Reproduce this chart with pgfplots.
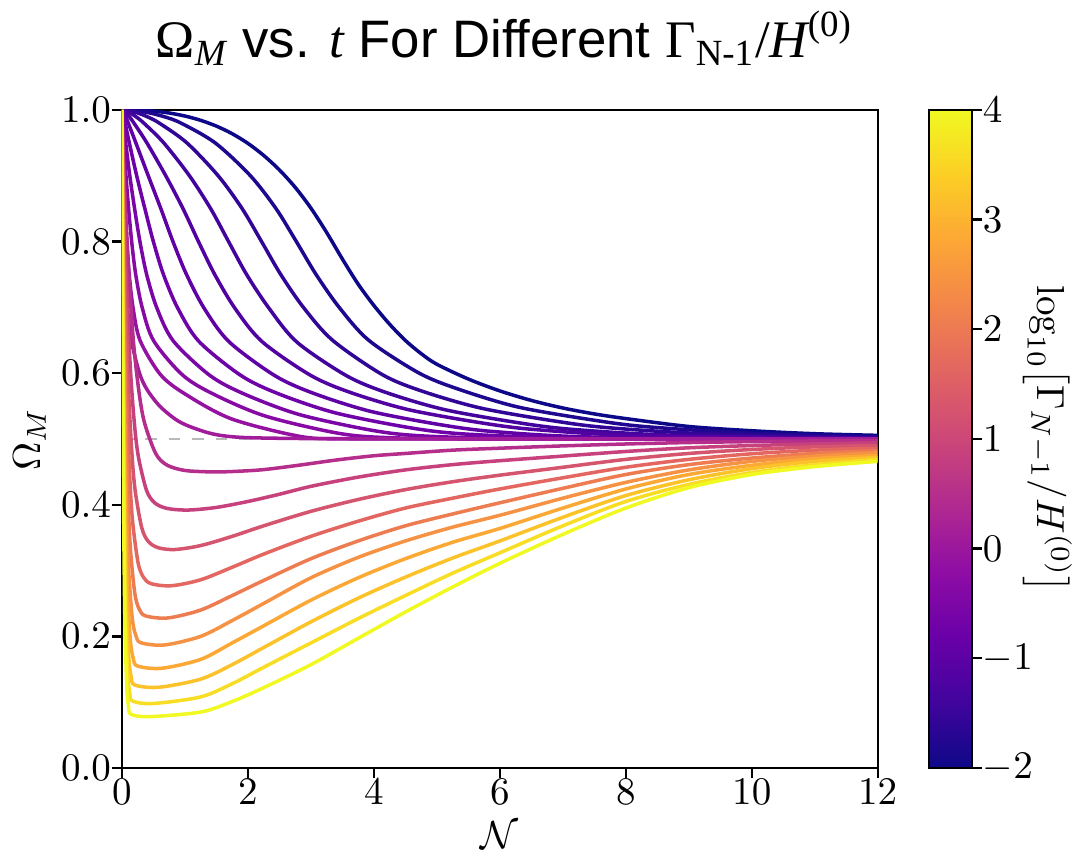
\documentclass[border=0pt]{standalone}
\usepackage[no-math]{fontspec}
\setmainfont{Liberation Sans}
\newfontfamily\tnr{Liberation Serif}
\usepackage{pgfplots}
\pgfplotsset{compat=1.18}

% plasma colours, one per curve (top curve = smallest decay rate)
\definecolor{c0}{RGB}{13,8,135}
\definecolor{c1}{RGB}{31,7,143}
\definecolor{c2}{RGB}{49,5,150}
\definecolor{c3}{RGB}{67,4,158}
\definecolor{c4}{RGB}{81,2,161}
\definecolor{c5}{RGB}{96,1,165}
\definecolor{c6}{RGB}{110,1,168}
\definecolor{c7}{RGB}{123,6,166}
\definecolor{c8}{RGB}{136,10,165}
\definecolor{c9}{RGB}{148,17,161}
\definecolor{c10}{RGB}{160,28,154}
\definecolor{c11}{RGB}{181,46,139}
\definecolor{c12}{RGB}{199,65,125}
\definecolor{c13}{RGB}{213,84,110}
\definecolor{c14}{RGB}{227,103,96}
\definecolor{c15}{RGB}{238,124,81}
\definecolor{c16}{RGB}{246,146,67}
\definecolor{c17}{RGB}{252,168,53}
\definecolor{c18}{RGB}{252,194,42}
\definecolor{c19}{RGB}{248,221,36}
\definecolor{c20}{RGB}{240,249,33}

\pgfplotsset{
  colormap={plasma}{rgb255=(13,8,135) rgb255=(65,4,157) rgb255=(106,0,168)
    rgb255=(143,13,164) rgb255=(177,42,144) rgb255=(204,71,120) rgb255=(225,100,98)
    rgb255=(242,132,75) rgb255=(252,166,54) rgb255=(252,206,37) rgb255=(240,249,33)},
}

\begin{document}
\begin{tikzpicture}
\useasboundingbox (-31.2pt,-21.5pt) rectangle (244pt,196.6pt);
\begin{axis}[
  at={(0pt,0pt)}, anchor=south west,
  scale only axis, width=193.5pt, height=168.45pt,
  xmin=0, xmax=12, ymin=0, ymax=1,
  xtick={0,2,4,6,8,10,12},
  ytick={0,0.2,0.4,0.6,0.8,1},
  yticklabel style={inner sep=0pt, /pgf/number format/.cd,fixed,fixed zerofill,precision=1},
  xticklabel style={inner sep=0pt},
  tick align=outside, tick pos=left, major tick length=2.6pt,
  axis line style={line width=0.6pt},
  every tick/.style={black, line width=0.6pt},
  colormap name=plasma,
  colorbar, point meta min=-2, point meta max=4,
  colorbar style={
    at={(parent axis.north east)}, anchor=north west, xshift=4.6pt,
    scale only axis, width=11pt, height=168.45pt,
    ytick={-2,-1,0,1,2,3,4},
    ytick pos=right, yticklabel pos=right,
    yticklabel style={inner sep=0pt},
    tick align=outside, major tick length=2.6pt,
    axis line style={line width=0.6pt},
    every tick/.style={black, line width=0.6pt},
    ylabel={$\log_{10}\bigl[\Gamma_{N-1}/H^{(0)}\bigr]$},
    every axis y label/.style={at={(axis description cs:2.76,0.5)}, anchor=center, rotate=-90, inner sep=0pt},
  },
  every axis plot/.append style={line width=0.9pt, smooth},
]
% reference level Omega_M = 1/2
\addplot[gray!55, dashed, line width=0.4pt, sharp plot] coordinates {(0,0.5) (12,0.5)};

\addplot[c0] coordinates {(0,1) (0.25,0.9996) (0.5,0.9983) (0.75,0.9954) (1,0.9908) (1.25,0.9843) (1.5,0.9755) (1.75,0.964) (2,0.9493) (2.25,0.931) (2.5,0.909) (2.75,0.8826) (3,0.851) (3.25,0.814) (3.5,0.7736) (3.75,0.7355) (4,0.703) (4.25,0.6745) (4.5,0.6498) (4.75,0.6298) (5,0.6136) (5.5,0.5911) (6,0.5731) (6.5,0.5586) (7,0.5471) (7.5,0.5381) (8,0.531) (9,0.519) (10,0.5125) (11,0.508) (12,0.5055)};
\addplot[c1] coordinates {(0,1) (0.359,0.997) (0.664,0.99) (0.94,0.98) (1.481,0.95) (2.041,0.9) (2.448,0.85) (2.77,0.8) (3.083,0.75) (3.45,0.7) (3.919,0.65) (4.721,0.6) (5.365,0.575) (6.292,0.5485) (7.5,0.5285) (8.333,0.5186) (9.972,0.5088) (12,0.5032)};
\addplot[c2] coordinates {(0,1) (0.199,0.997) (0.396,0.99) (0.595,0.98) (1.032,0.95) (1.529,0.9) (1.91,0.85) (2.218,0.8) (2.522,0.75) (2.882,0.7) (3.345,0.65) (4.142,0.5974) (4.784,0.5721) (5.71,0.5467) (6.917,0.5266) (7.751,0.5169) (9.39,0.5074) (12,0.5019)};
\addplot[c3] coordinates {(0,1) (0.105,0.997) (0.221,0.99) (0.349,0.98) (0.665,0.95) (1.073,0.9) (1.41,0.85) (1.694,0.8) (1.98,0.75) (2.326,0.7) (2.778,0.6473) (3.565,0.5962) (4.205,0.5703) (5.128,0.5445) (6.335,0.5241) (7.168,0.5145) (8.808,0.5055) (12,0.5007)};
\addplot[c4] coordinates {(0,1) (0.054,0.997) (0.118,0.99) (0.192,0.98) (0.397,0.95) (0.697,0.9) (0.971,0.85) (1.216,0.8) (1.474,0.75) (1.795,0.6986) (2.225,0.648) (2.995,0.5968) (3.628,0.5707) (4.547,0.5446) (5.753,0.5238) (6.586,0.5141) (8.225,0.5051) (12,0.5003)};
\addplot[c5] coordinates {(0,1) (0.028,0.997) (0.061,0.99) (0.102,0.98) (0.222,0.95) (0.419,0.9) (0.619,0.85) (0.811,0.8) (1.026,0.75) (1.306,0.6987) (1.701,0.6478) (2.436,0.5958) (3.057,0.5689) (3.969,0.5415) (5.172,0.5199) (6.004,0.5105) (7.643,0.5026) (12,0.5)};
\addplot[c6] coordinates {(0,1) (0.0139,0.997) (0.031,0.99) (0.0524,0.98) (0.118,0.95) (0.2353,0.9) (0.365,0.85) (0.5,0.8) (0.66,0.75) (0.885,0.6992) (1.222,0.6484) (1.898,0.596) (2.496,0.5683) (3.393,0.5396) (4.591,0.5168) (5.422,0.5077) (7.06,0.5012) (9,0.5) (12,0.5)};
\addplot[c7] coordinates {(0,1) (0.0156,0.99) (0.0266,0.98) (0.0611,0.95) (0.1258,0.9) (0.2021,0.85) (0.2867,0.8) (0.3935,0.75) (0.5538,0.6995) (0.8162,0.649) (1.3994,0.5964) (1.9554,0.5678) (2.8259,0.5369) (4.0118,0.5125) (4.841,0.5043) (6.478,0.5003) (9,0.5) (12,0.5)};
\addplot[c8] coordinates {(0,1) (0.0134,0.98) (0.0311,0.95) (0.0653,0.9) (0.1071,0.85) (0.1555,0.8) (0.2196,0.75) (0.3218,0.7) (0.5035,0.6494) (0.9627,0.5973) (1.451,0.5683) (2.2718,0.535) (3.4364,0.5087) (4.2611,0.5019) (5.895,0.5002) (8,0.5) (12,0.5)};
\addplot[c9] coordinates {(0,1) (0.0067,0.98) (0.0157,0.95) (0.0333,0.9) (0.0553,0.85) (0.0813,0.8) (0.1169,0.75) (0.1762,0.7) (0.2888,0.6497) (0.6122,0.5979) (1.0063,0.5682) (1.744,0.5304) (2.868,0.5033) (3.684,0.5003) (6,0.5) (12,0.5)};
\addplot[c10] coordinates {(0,1) (0.0075,0.95) (0.016,0.9) (0.037,0.8) (0.056,0.75) (0.088,0.7) (0.15,0.65) (0.28,0.6) (0.4,0.575) (0.6,0.55) (0.85,0.53) (1.05,0.52) (1.35,0.51) (1.6,0.505) (2.0,0.502) (3,0.5006) (5,0.5) (12,0.5)};
\addplot[c11] coordinates {(0,1) (0.045,0.8783) (0.09,0.7836) (0.18,0.6523) (0.27,0.5727) (0.36,0.5244) (0.54,0.4774) (0.72,0.4601) (0.99,0.4523) (1.3,0.4503) (1.6,0.45) (2.2,0.453) (2.8,0.46) (3.4,0.468) (4,0.4745) (4.5,0.478) (5.25,0.483) (6,0.486) (7,0.4895) (8,0.4924) (9,0.4946) (10,0.496) (11,0.497) (12,0.4975)};
\addplot[c12] coordinates {(0,1) (0.0325,0.8655) (0.065,0.7607) (0.13,0.6157) (0.195,0.5277) (0.26,0.4743) (0.39,0.4223) (0.52,0.4031) (0.715,0.3945) (1.05,0.392) (1.5,0.396) (2,0.405) (2.5,0.416) (3,0.428) (3.75,0.442) (4.5,0.453) (5.25,0.461) (6,0.467) (7,0.474) (8,0.481) (9,0.4866) (10,0.49) (11,0.4925) (12,0.494)};
\addplot[c13] coordinates {(0,1) (0.026,0.8522) (0.0525,0.7371) (0.105,0.5778) (0.1575,0.481) (0.21,0.4224) (0.315,0.3653) (0.42,0.3442) (0.578,0.3347) (0.84,0.332) (1.25,0.338) (1.75,0.352) (2.25,0.368) (3,0.39) (3.75,0.408) (4.5,0.423) (5.25,0.435) (6,0.445) (7,0.457) (8,0.469) (9,0.478) (10,0.484) (11,0.488) (12,0.49)};
\addplot[c14] coordinates {(0,1) (0.021,0.8401) (0.0425,0.7155) (0.085,0.543) (0.1275,0.4383) (0.17,0.3748) (0.255,0.313) (0.34,0.2902) (0.4675,0.28) (0.79,0.277) (1.25,0.286) (1.75,0.305) (2.25,0.325) (3,0.352) (3.75,0.375) (4.5,0.395) (5.25,0.41) (6,0.424) (7,0.441) (8,0.457) (9,0.469) (10,0.4775) (11,0.483) (12,0.486)};
\addplot[c15] coordinates {(0,1) (0.017,0.8292) (0.034,0.6962) (0.068,0.512) (0.102,0.4002) (0.136,0.3325) (0.204,0.2664) (0.272,0.2421) (0.374,0.2312) (0.73,0.228) (1.25,0.24) (1.75,0.262) (2.25,0.285) (3,0.318) (3.75,0.345) (4.5,0.368) (5.25,0.386) (6,0.403) (7,0.425) (8,0.446) (9,0.461) (10,0.471) (11,0.478) (12,0.482)};
\addplot[c16] coordinates {(0,1) (0.01375,0.8201) (0.0275,0.6801) (0.055,0.4861) (0.0825,0.3684) (0.11,0.297) (0.165,0.2275) (0.22,0.2019) (0.3025,0.1903) (0.68,0.187) (1.25,0.2) (1.75,0.224) (2.25,0.25) (3,0.289) (3.75,0.32) (4.5,0.345) (5.25,0.366) (6,0.384) (7,0.41) (8,0.434) (9,0.453) (10,0.466) (11,0.474) (12,0.479)};
\addplot[c17] coordinates {(0,1) (0.01125,0.8123) (0.0225,0.6661) (0.045,0.4637) (0.0675,0.3408) (0.09,0.2663) (0.135,0.1938) (0.18,0.167) (0.2475,0.155) (0.63,0.1515) (1.25,0.165) (1.75,0.19) (2.25,0.216) (3,0.255) (3.75,0.289) (4.5,0.318) (5.25,0.343) (6,0.364) (7,0.395) (8,0.424) (9,0.446) (10,0.46) (11,0.47) (12,0.475)};
\addplot[c18] coordinates {(0,1) (0.00925,0.8059) (0.0185,0.6547) (0.037,0.4454) (0.0555,0.3184) (0.074,0.2413) (0.111,0.1663) (0.148,0.1387) (0.2035,0.1262) (0.58,0.1226) (1.25,0.135) (1.75,0.157) (2.25,0.183) (3,0.222) (3.75,0.258) (4.5,0.29) (5.25,0.319) (6,0.345) (7,0.381) (8,0.414) (9,0.438) (10,0.455) (11,0.466) (12,0.472)};
\addplot[c19] coordinates {(0,1) (0.00775,0.8005) (0.0155,0.6451) (0.031,0.4298) (0.0465,0.3) (0.062,0.22) (0.093,0.1429) (0.124,0.1145) (0.1705,0.1017) (0.5,0.098) (1.25,0.108) (1.75,0.128) (2.25,0.153) (3,0.19) (3.75,0.227) (4.5,0.262) (5.25,0.296) (6,0.327) (7,0.368) (8,0.405) (9,0.431) (10,0.449) (11,0.461) (12,0.469)};
\addplot[c20] coordinates {(0,1) (0.0065,0.7961) (0.013,0.6372) (0.026,0.4172) (0.039,0.2837) (0.052,0.2027) (0.078,0.1239) (0.104,0.0949) (0.143,0.0818) (0.43,0.078) (1.25,0.085) (1.75,0.101) (2.25,0.122) (3,0.157) (3.75,0.197) (4.5,0.237) (5.25,0.275) (6,0.311) (7,0.355) (8,0.395) (9,0.426) (10,0.446) (11,0.458) (12,0.466)};
\end{axis}
% axis labels
\node at (96.75pt,-17.2pt) {$\mathcal{N}$};
\node[rotate=90] at (-23.6pt,84.2pt) {$\Omega_M$};
% title
\node[anchor=base] at (97.9pt,182pt) {\fontsize{13.5}{16}\selectfont
  {\tnr\char"03A9}\textsubscript{\tnr\itshape M} vs. {\tnr\itshape t} For Different
  {\tnr\char"0393}\textsubscript{\tnr N-1}{\tnr/\itshape H}\textsuperscript{\tnr (0)}};
\end{tikzpicture}
\end{document}
